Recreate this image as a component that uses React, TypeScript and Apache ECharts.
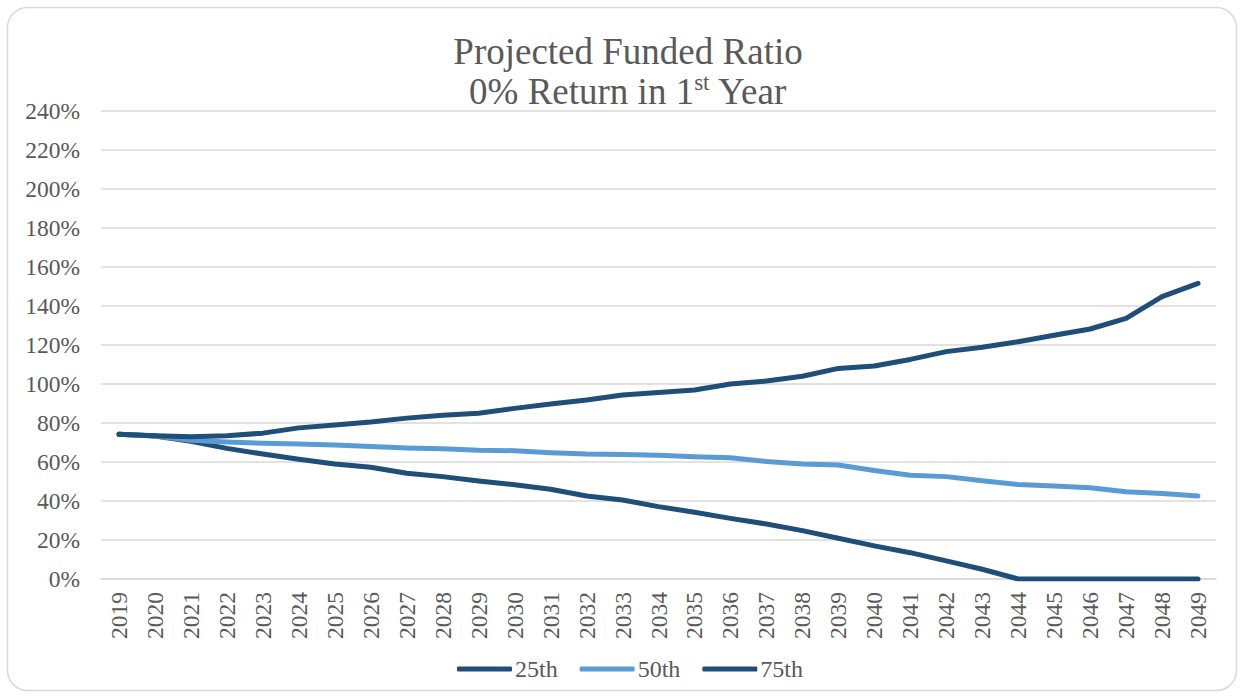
import React, { useEffect, useRef } from "react";
import * as echarts from "echarts";

const years = [
  "2019", "2020", "2021", "2022", "2023", "2024", "2025", "2026", "2027", "2028",
  "2029", "2030", "2031", "2032", "2033", "2034", "2035", "2036", "2037", "2038",
  "2039", "2040", "2041", "2042", "2043", "2044", "2045", "2046", "2047", "2048", "2049",
];

const p25 = [
  74.2, 73.3, 70.6, 67, 64.1, 61.4, 59, 57.3, 54.2, 52.5,
  50.3, 48.3, 46, 42.6, 40.5, 37.1, 34.2, 31.1, 28.2, 24.8,
  20.9, 17, 13.5, 9.3, 5, 0, 0, 0, 0, 0, 0,
];

const p50 = [
  74.2, 73.3, 71.2, 70.3, 69.6, 69.2, 68.7, 67.9, 67.2, 66.8,
  66.0, 65.8, 64.8, 64.1, 63.9, 63.4, 62.7, 62.2, 60.3, 59,
  58.5, 55.6, 53.2, 52.5, 50.4, 48.5, 47.7, 46.8, 44.8, 43.9, 42.6,
];

const p75 = [
  74.2, 73.5, 73.0, 73.5, 74.8, 77.5, 79, 80.5, 82.5, 84,
  85, 87.5, 89.7, 91.8, 94.4, 95.7, 96.9, 100, 101.5, 104,
  108, 109.2, 112.6, 116.6, 118.8, 121.7, 125, 128.2, 133.7, 144.8, 151.6,
];

const seriesNames = ["25th", "50th", "75th"];

const DARK = "#1F4E79";
const LIGHT = "#5B9BD5";
const TEXT = "#595959";
const GRID = "#D9D9D9";
const FONT = "'Liberation Serif', 'Times New Roman', serif";

export default function App() {
  const ref = useRef<HTMLDivElement>(null);

  useEffect(() => {
    if (!ref.current) return;
    const chart = echarts.init(ref.current, undefined, { renderer: "svg" });
    const mkSeries = (name: string, data: number[], color: string) => ({
      name,
      type: "line",
      data,
      symbol: "none",
      smooth: false,
      lineStyle: { color, width: 5, cap: "round", join: "round" },
      itemStyle: { color },
    });
    chart.setOption({
      animation: false,
      backgroundColor: "#ffffff",
      textStyle: { fontFamily: FONT },
      graphic: [
        {
          type: "rect",
          shape: { x: 7.5, y: 7.5, width: 1229, height: 683, r: 20 },
          style: { fill: "none", stroke: GRID, lineWidth: 1.5 },
          silent: true,
        },
      ],
      title: {
        left: 623,
        textAlign: "center",
        top: 26,
        text: "{t|Projected Funded Ratio}\n{t|0% Return in 1}{s|st}{t| Year}",
        textStyle: {
          fontWeight: "normal",
          rich: {
            t: {
              fontFamily: FONT,
              fontSize: 37,
              fontWeight: "normal",
              color: TEXT,
              lineHeight: 40,
            },
            s: {
              fontFamily: FONT,
              fontSize: 23,
              fontWeight: "normal",
              color: TEXT,
              lineHeight: 40,
              verticalAlign: "top",
            },
          },
        },
      },
      legend: {
        left: 452,
        top: 652,
        itemWidth: 55,
        itemHeight: 5,
        itemGap: 22,
        icon: "roundRect",
        data: seriesNames,
        textStyle: { fontFamily: FONT, fontSize: 24, color: TEXT, padding: [0, 0, 0, -2] },
      },
      grid: { left: 101, right: 28, top: 111, bottom: 119, containLabel: false },
      xAxis: {
        type: "category",
        data: years,
        boundaryGap: true,
        axisLine: { show: true, lineStyle: { color: GRID, width: 1.5 } },
        axisTick: { show: false },
        axisLabel: {
          rotate: 90,
          interval: 0,
          margin: 13,
          fontFamily: FONT,
          fontSize: 23.5,
          color: TEXT,
        },
      },
      yAxis: {
        type: "value",
        min: 0,
        max: 240,
        interval: 20,
        axisLine: { show: false },
        axisTick: { show: false },
        splitLine: { lineStyle: { color: GRID, width: 1.5 } },
        axisLabel: {
          formatter: "{value}%",
          margin: 21,
          fontFamily: FONT,
          fontSize: 23.5,
          color: TEXT,
        },
      },
      series: [
        mkSeries(seriesNames[0], p25, DARK),
        mkSeries(seriesNames[1], p50, LIGHT),
        mkSeries(seriesNames[2], p75, DARK),
      ],
    });
    return () => chart.dispose();
  }, []);

  return (
    <div
      ref={ref}
      style={{ position: "fixed", left: 0, top: 0, width: 1244, height: 698, background: "#fff" }}
    />
  );
}
